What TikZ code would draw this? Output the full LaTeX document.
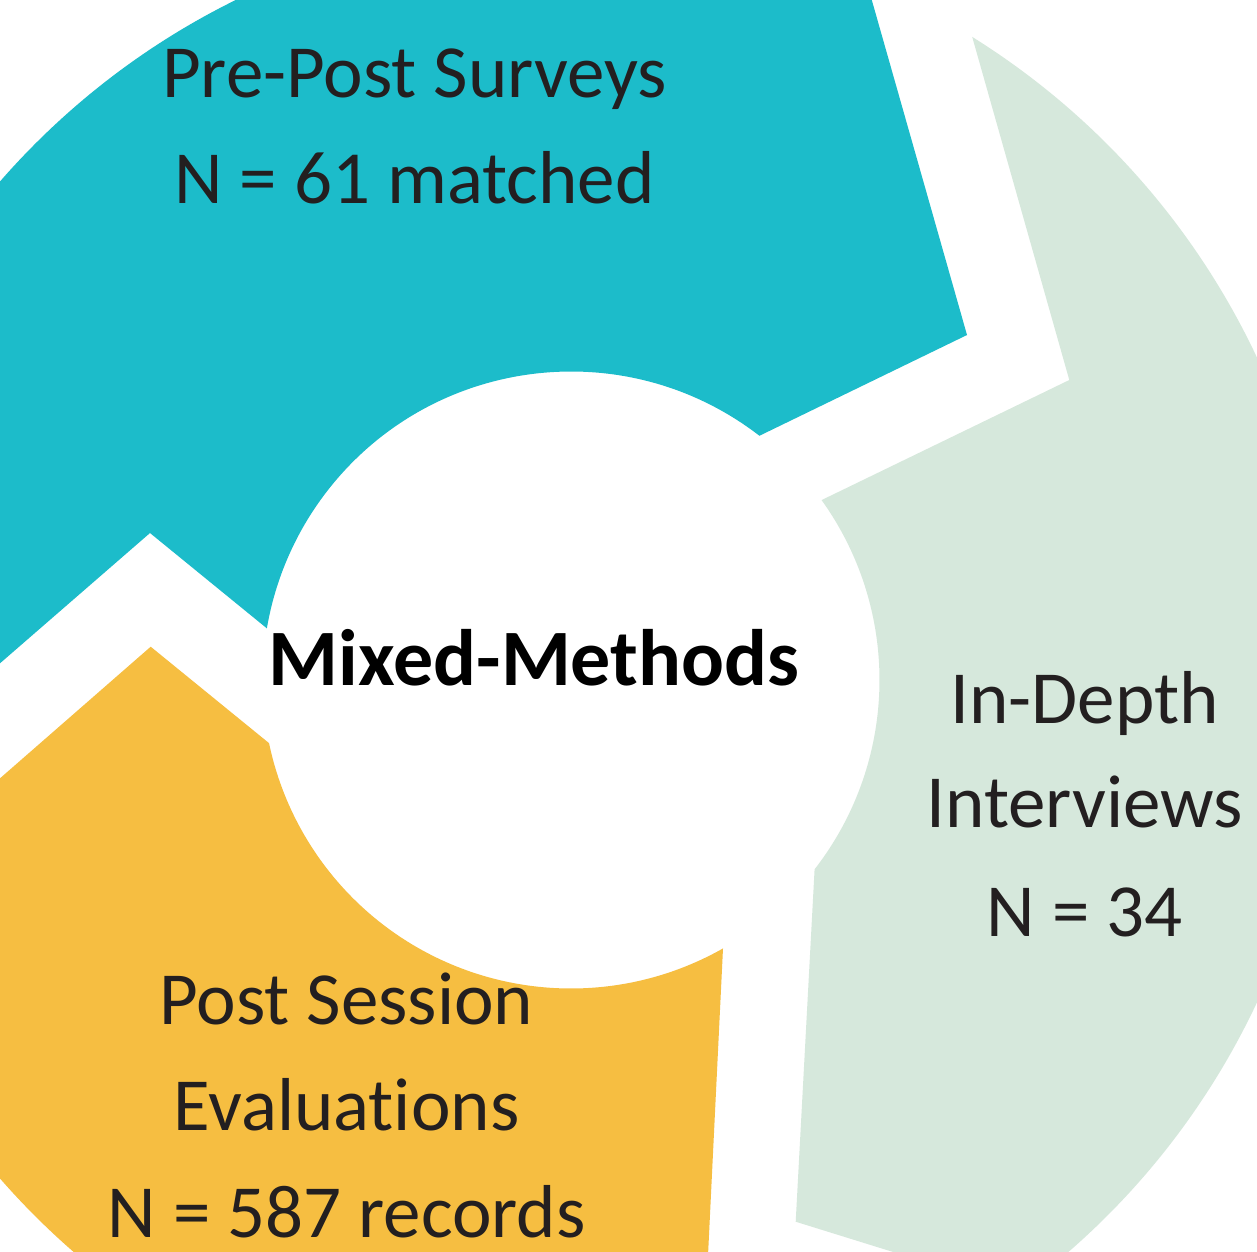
\documentclass[tikz,border=0pt]{standalone}
\usepackage{fontspec}
\setmainfont{Carlito}[Ligatures=NoCommon]
\definecolor{tealseg}{HTML}{1CBCCA}
\definecolor{greenseg}{HTML}{D6E8DC}
\definecolor{yellowseg}{HTML}{F6BE41}
\definecolor{labeltext}{HTML}{231F20}
\begin{document}
\begin{tikzpicture}[x=1pt,y=1pt,
  seglabel/.style={anchor=base,inner sep=0pt,text=labeltext,font=\fontsize{75}{90}\selectfont},
  centerlabel/.style={anchor=base,inner sep=0pt,text=black,font=\fontsize{80}{96}\selectfont\bfseries}]
\useasboundingbox (0,0) rectangle (1257,-1251);
\fill[white] (0,0) rectangle (1257,-1251);
\clip (0,0) rectangle (1257,-1251);
\begin{scope}[shift={(571,-680)}]
  % teal arrow (top)
  \fill[tealseg] (67.04:758) -- (396,345) -- (52.35:308.5)
    arc[start angle=52.35,end angle=170.36,radius=308.5]
    -- (-421,147) -- (190.27:758)
    arc[start angle=190.27,end angle=67.04,radius=758] -- cycle;
  % green arrow (right)
  \fill[greenseg] (58.04:758) -- (498.3,300) -- (35.68:308.5)
    arc[start angle=35.68,end angle=-37.85,radius=308.5]
    -- (224.7,-541.7) -- (-53.74:758)
    arc[start angle=-53.74,end angle=58.04,radius=758] -- cycle;
  % yellow arrow (bottom-left)
  \fill[yellowseg] (-62.3:758) -- (135.6,-604) -- (-60.48:308.5)
    arc[start angle=-60.48,end angle=-168.19,radius=308.5]
    -- (-420.3,33.3) -- (197.69:758)
    arc[start angle=197.69,end angle=297.7,radius=758] -- cycle;
\end{scope}
\node[seglabel] (s1) at (414.5,-97.5) {Pre-Post Surveys};
\node[seglabel] (s2) at (414.5,-203.3) {N = 61 matched};
\node[centerlabel] (mm) at (534,-685) {Mixed-Methods};
\node[seglabel] (i1) at (1084.7,-723.3) {In-Depth};
\node[seglabel] (i2) at (1084.7,-827.7) {Interviews};
\node[seglabel] (i3) at (1084.7,-936) {N = 34};
\node[seglabel] (p1) at (346.5,-1024) {Post Session};
\node[seglabel] (p2) at (346.5,-1130.7) {Evaluations};
\node[seglabel] (p3) at (346.5,-1237.3) {N = 587 records};
\end{tikzpicture}
\end{document}
